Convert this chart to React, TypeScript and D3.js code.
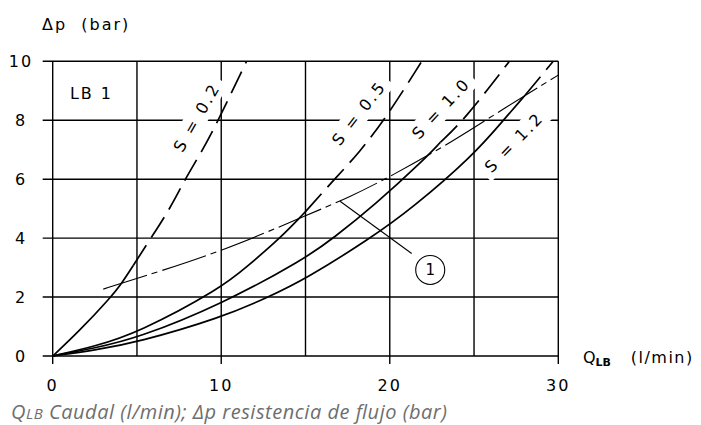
import * as d3 from "d3";

const W = 701;
const H = 425;

const X_DOMAIN: [number, number] = [0, 30];
const Y_DOMAIN: [number, number] = [0, 10];
const X_RANGE: [number, number] = [52.7, 558.3];
const Y_RANGE: [number, number] = [356, 61.3];

const xTicks = [0, 10, 20, 30];
const yTicks = [0, 2, 4, 6, 8, 10];
const xGrid = [5, 10, 15, 20, 25];

type Pt = [number, number];

// curves (Q l/min, dp bar)
const s02: Pt[] = [[0, 0], [1.5, 0.8], [3.46, 2], [4.09, 2.46], [4.79, 3.08], [5.87, 4.04], [6.96, 5], [7.85, 6], [8.84, 6.93], [9.83, 8], [11.5, 10]];
const s05: Pt[] = [[0, 0], [2.5, 0.33], [5, 0.77], [10, 2.3], [11.56, 3.05], [13.5, 4], [15, 4.9], [16.75, 6.02], [18.14, 6.87], [19.8, 8.1], [21.9, 10]];
const s10: Pt[] = [[0, 0], [2.5, 0.27], [5, 0.6], [10, 1.75], [15, 3.31], [16.65, 4], [19.1, 5.12], [22.1, 6.7], [23, 7.25], [24.4, 8], [27.1, 10]];
const s12: Pt[] = [[0, 0], [2.5, 0.2], [5, 0.46], [10, 1.3], [12.8, 2], [15, 2.61], [18.87, 4], [21.3, 5], [24.96, 6.81], [26.74, 8], [28.03, 8.85], [29.7, 10]];
const line1: Pt[] = [[3, 2.27], [5, 2.63], [10, 3.54], [15, 4.76], [17.65, 5.4], [20, 6.08], [23.7, 7.26], [26.9, 8.45], [30, 9.53]];

const curves = [
  { name: "S = 0.2", pts: s02, solidUntil: 4.79, label: [8.56, 8.1] as Pt, angle: -60 },
  { name: "S = 0.5", pts: s05, solidUntil: 15, label: [18.18, 8.24] as Pt, angle: -52 },
  { name: "S = 1.0", pts: s10, solidUntil: 23, label: [23.05, 8.4] as Pt, angle: -47 },
  { name: "S = 1.2", pts: s12, solidUntil: 28.03, label: [27.38, 7.25] as Pt, angle: -46 },
];

const leader: Pt[] = [[17.05, 5.25], [21.3, 3.48]];
const marker: Pt = [22.4, 2.92];
const boxLabel: Pt = [2.3, 8.9];

const INK = "#000";
const FONT = "'DejaVu Sans', sans-serif";

const x = d3.scaleLinear().domain(X_DOMAIN).range(X_RANGE);
const y = d3.scaleLinear().domain(Y_DOMAIN).range(Y_RANGE);

const lineGen = d3
  .line<Pt>()
  .x((d) => x(d[0]))
  .y((d) => y(d[1]))
  .curve(d3.curveBasis);

// split a curve in its solid and dashed part, sharing the break point
const split = (pts: Pt[], at: number) => {
  const solid = pts.filter((p) => p[0] <= at);
  const dashed = pts.filter((p) => p[0] >= at);
  return { solid: lineGen(solid) ?? "", dashed: lineGen(dashed) ?? "" };
};

export default function App() {
  const [x0, x1] = X_RANGE;
  const [y0, y1] = Y_RANGE;

  return (
    <svg
      width={W}
      height={H}
      viewBox={`0 0 ${W} ${H}`}
      style={{ position: "absolute", left: 0, top: 0, background: "#fff" }}
    >
      {/* grid */}
      <g stroke={INK} strokeWidth={1.4}>
        {yTicks.map((t) => (
          <line key={`h${t}`} x1={x0 - 10} x2={x1} y1={y(t)} y2={y(t)} />
        ))}
        <line x1={x0} x2={x0} y1={y1} y2={y0 + 8} />
        <line x1={x1} x2={x1} y1={y1} y2={y0 + 8} />
        {xGrid.map((t) => (
          <line key={`v${t}`} x1={x(t)} x2={x(t)} y1={y1} y2={xTicks.includes(t) ? y0 + 8 : y0} />
        ))}
      </g>

      {/* white backgrounds behind curve labels */}
      {curves.map((c) => (
        <rect
          key={`bg${c.name}`}
          x={-44}
          y={-11}
          width={88}
          height={22}
          fill="#fff"
          transform={`translate(${x(c.label[0])},${y(c.label[1])}) rotate(${c.angle})`}
        />
      ))}

      {/* curves */}
      <g fill="none" stroke={INK} strokeWidth={1.7}>
        {curves.map((c) => {
          const parts = split(c.pts, c.solidUntil);
          return (
            <g key={c.name}>
              <path d={parts.solid} />
              <path d={parts.dashed} strokeDasharray="24,9" />
            </g>
          );
        })}
        <path d={lineGen(line1) ?? ""} strokeWidth={1.1} strokeDasharray="46,5,6,5" />
        <line
          x1={x(leader[0][0])}
          y1={y(leader[0][1])}
          x2={x(leader[1][0])}
          y2={y(leader[1][1])}
          strokeWidth={1.1}
        />
        <circle cx={x(marker[0])} cy={y(marker[1])} r={14.5} strokeWidth={1.1} />
      </g>

      <g fontFamily={FONT} fill={INK} fontSize={16}>
        <text x={x(marker[0])} y={y(marker[1])} textAnchor="middle" dominantBaseline="central" fontSize={15}>
          1
        </text>

        {curves.map((c) => (
          <text
            key={`t${c.name}`}
            transform={`translate(${x(c.label[0])},${y(c.label[1])}) rotate(${c.angle})`}
            textAnchor="middle"
            dominantBaseline="central"
            letterSpacing={2.5}
          >
            {c.name}
          </text>
        ))}

        <text x={x(boxLabel[0])} y={y(boxLabel[1])} textAnchor="middle" dominantBaseline="central" letterSpacing={2} style={{ whiteSpace: "pre" }}>
          {"LB 1"}
        </text>

        {yTicks.map((t) => (
          <text key={`yl${t}`} x={21} y={y(t)} textAnchor="middle" dominantBaseline="central" letterSpacing={2}>
            {t}
          </text>
        ))}
        {xTicks.map((t) => (
          <text key={`xl${t}`} x={x(t)} y={385} textAnchor="middle" dominantBaseline="central" letterSpacing={2}>
            {t}
          </text>
        ))}

        <text x={42} y={30} letterSpacing={2} style={{ whiteSpace: "pre" }}>
          {"Δp  (bar)"}
        </text>

        <text x={583} y={363} style={{ whiteSpace: "pre" }}>
          <tspan>Q</tspan>
          <tspan fontSize={11} dy={3} fontWeight="bold">LB</tspan>
          <tspan dy={-3} letterSpacing={1.5}>{"   (l/min)"}</tspan>
        </text>
      </g>

      <text
        x={11}
        y={419}
        fontFamily="'Open Sans', sans-serif"
        fontStyle="italic"
        fontSize={20}
        fill="#6e6e6e"
        textLength={436}
        lengthAdjust="spacing"
      >
        <tspan>Q</tspan>
        <tspan fontSize={15}>LB</tspan>
        <tspan> Caudal (l/min); Δp resistencia de flujo (bar)</tspan>
      </text>
    </svg>
  );
}
